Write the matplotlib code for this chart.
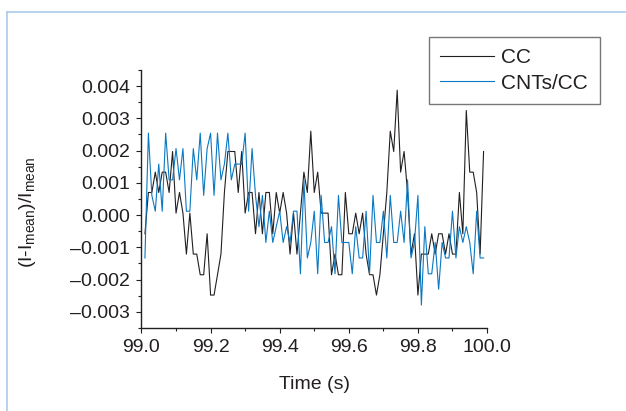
import numpy as np
import matplotlib
matplotlib.use("Agg")
import matplotlib.pyplot as plt
from matplotlib.lines import Line2D
from matplotlib.ticker import MultipleLocator, FuncFormatter

plt.rcParams["font.family"] = ["Liberation Sans", "DejaVu Sans"]
plt.rcParams["mathtext.default"] = "regular"

TEXT = "#231f20"
COLOR_CC = "#231f20"
COLOR_CNT = "#0a78c2"
FRAME = "#a9cbea"

# time axis, 10 ms sampling
time_s = np.round(np.arange(99.01, 99.995, 0.01), 2)

# normalised current fluctuation, bare carbon cloth
cc = [
    -0.00058, 0.0007, 0.0007, 0.00133, 0.0007, 0.00133, 0.00133, 0.0007, 0.00197, 0.00006,
    0.0007, 0.00006, -0.00121, 0.00006, -0.00121, -0.00121, -0.00185, -0.00185, -0.00058, -0.00248,
    -0.00248, -0.00185, -0.00121, 0.0007, 0.00197, 0.00197, 0.00197, 0.0007, 0.00197, 0.00006,
    0.0007, 0.0007, -0.00058, 0.0007, -0.00058, 0.0007, 0.0007, -0.00058, 0.0007, 0.00006,
    0.0007, 0.00006, -0.00121, 0.00006, -0.00121, 0.00006, 0.00133, 0.0007, 0.0026, 0.0007,
    0.00133, 0.00006, 0.00006, 0.00006, -0.00185, -0.00121, -0.00185, -0.00185, 0.0007, -0.00058,
    -0.00058, 0.00006, -0.00058, 0.00006, -0.00121, -0.00185, -0.00185, -0.00248, -0.00185, -0.00058,
    0.0007, 0.0026, 0.00197, 0.00387, 0.00133, 0.00197, 0.0007, -0.00121, -0.00058, -0.00248,
    -0.00121, -0.00121, -0.00121, -0.00058, -0.00121, -0.00058, -0.00058, -0.00121, -0.00058, -0.00121,
    -0.00121, 0.0007, -0.00058, 0.00324, 0.00133, 0.00133, 0.0007, -0.00121, 0.00197,
]

# same, CNT-coated carbon cloth
cnts_cc = [
    -0.00133, 0.00254, 0.00061, 0.00012, 0.00158, 0.00012, 0.00254, 0.00109, 0.00109, 0.00206,
    0.00109, 0.00206, 0.00012, 0.00012, 0.00206, 0.00109, 0.00254, 0.00061, 0.00206, 0.00254,
    0.00061, 0.00254, 0.00109, 0.00158, 0.00254, 0.00109, 0.00158, 0.00158, 0.00158, 0.00254,
    0.00012, 0.00206, 0.00061, -0.00036, 0.00061, -0.00085, 0.00012, -0.00085, -0.00036, 0.00012,
    -0.00085, -0.00036, -0.00085, 0.00012, 0.00012, -0.00182, 0.00109, -0.00133, -0.00085, 0.00012,
    -0.00182, 0.00061, -0.00085, -0.00085, -0.00036, -0.00182, 0.00061, -0.00085, -0.00085, -0.00085,
    -0.00182, -0.00036, -0.00133, -0.00133, 0.00012, -0.00182, 0.00061, -0.00085, -0.00085, 0.00012,
    -0.00133, 0.00061, -0.00085, -0.00085, 0.00012, -0.00085, 0.00109, -0.00133, -0.00085, 0.00061,
    -0.00279, -0.00036, -0.00182, -0.00182, -0.00085, -0.00230, -0.00085, -0.00133, -0.00133, 0.00012,
    -0.00133, -0.00036, -0.00085, -0.00036, -0.00085, -0.00182, 0.00012, -0.00133, -0.00133,
]

fig = plt.figure(figsize=(6.26, 4.11), dpi=100)
ax = fig.add_axes([0.226, 0.202, 0.552, 0.628])

ax.plot(time_s, cc, color=COLOR_CC, lw=0.8, label="CC")
ax.plot(time_s, cnts_cc, color=COLOR_CNT, lw=0.8, label="CNTs/CC")

ax.set_xlim(99.0, 100.0)
ax.set_ylim(-0.0035, 0.0045)
ax.xaxis.set_major_locator(MultipleLocator(0.2))
ax.xaxis.set_minor_locator(MultipleLocator(0.1))
ax.yaxis.set_major_locator(MultipleLocator(0.001))
ax.yaxis.set_minor_locator(MultipleLocator(0.0005))
ax.xaxis.set_major_formatter(FuncFormatter(lambda v, p: f"{v:.1f}"))
ax.yaxis.set_major_formatter(FuncFormatter(lambda v, p: f"{v:.3f}".replace("-", "\u2013")))

for s in ("top", "right"):
    ax.spines[s].set_visible(False)
for s in ("left", "bottom"):
    ax.spines[s].set_linewidth(1.0)
    ax.spines[s].set_color(TEXT)

ax.tick_params(which="major", direction="out", length=3.6, width=0.8, colors=TEXT,
               labelsize=14, pad=4.5)
ax.tick_params(which="minor", direction="out", length=2.0, width=0.8, colors=TEXT)

ax.set_xlabel("Time (s)", fontsize=14, color=TEXT, labelpad=14)
ax.set_ylabel("(I-I$_{mean}$)/I$_{mean}$", fontsize=14, color=TEXT)
ax.yaxis.set_label_coords(-0.30, 0.45)

leg = ax.legend(loc="upper right", bbox_to_anchor=(0.958, 0.91),
                bbox_transform=fig.transFigure, fontsize=15, frameon=True,
                fancybox=False, handlelength=2.6, handletextpad=0.35,
                labelspacing=0.3, borderpad=0.55, borderaxespad=0)
leg.get_frame().set_edgecolor("#555555")
leg.get_frame().set_linewidth(1.0)
for t in leg.get_texts():
    t.set_color(TEXT)

# light blue page frame (left and top edges)
fig.add_artist(Line2D([7 / 626, 7 / 626], [0, 1 - 12 / 411], transform=fig.transFigure,
                      color=FRAME, lw=1.2))
fig.add_artist(Line2D([7 / 626, 1], [1 - 12 / 411, 1 - 12 / 411], transform=fig.transFigure,
                      color=FRAME, lw=1.2))

fig.savefig("out.png", dpi=100)
